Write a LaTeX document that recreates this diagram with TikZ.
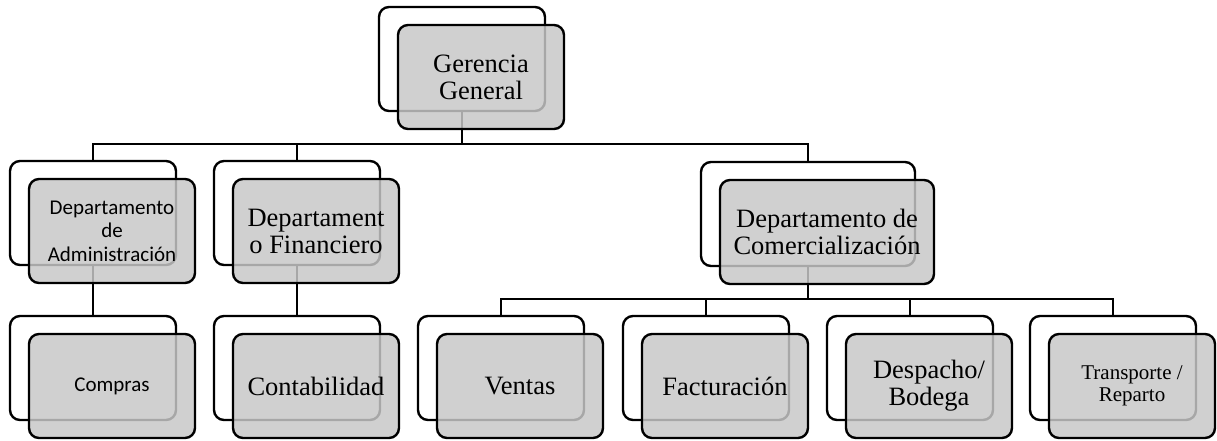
\documentclass[tikz,border=0pt]{standalone}
\usepackage{fontspec}
\setmainfont{Liberation Serif}
\newfontfamily\calibri{Carlito}
\usetikzlibrary{positioning}

\begin{document}
\begin{tikzpicture}[
			x=1pt, y=-1pt,
			back/.style={draw, line width=2.4pt, rounded corners=10pt, fill=white, minimum width=166pt, minimum height=104pt, inner sep=2pt},
			front/.style={back, fill=black!22, fill opacity=0.84, text opacity=1, align=center, font=\fontsize{26.5}{27}\selectfont},
			wide/.style={minimum width=214pt},
			sans/.style={font=\calibri\fontsize{21}{23.5}\selectfont},
			small/.style={font=\fontsize{21}{22.5}\selectfont},
			link/.style={draw, line width=2pt},
			]
			\useasboundingbox (0,0) rectangle (1217,440);
			
			%% ── Back frames ─────────────────────────────────────────────
			\node[back] (ger0) at (462,59) {};
			\node[back] (adm0) at (93,213) {};
			\node[back] (fin0) at (297,213) {};
			\node[back, wide] (com0) at (808,214) {};
			\node[back] (cmp0) at (93,368) {};
			\node[back] (con0) at (297,368) {};
			\node[back] (ven0) at (501,368) {};
			\node[back] (fac0) at (706,368) {};
			\node[back] (des0) at (910,368) {};
			\node[back] (tra0) at (1113,368) {};
			
			%% ── Connectors ──────────────────────────────────────────────
			\draw[link] (ger0.south) -- ++(0,32) -| (adm0.north);
			\draw[link] (ger0.south) -- ++(0,32) -| (fin0.north);
			\draw[link] (ger0.south) -- ++(0,32) -| (com0.north);
			\draw[link] (adm0.south) -- (cmp0.north);
			\draw[link] (fin0.south) -- (con0.north);
			\draw[link] (com0.south) -- ++(0,32) -| (ven0.north);
			\draw[link] (com0.south) -- ++(0,32) -| (fac0.north);
			\draw[link] (com0.south) -- ++(0,32) -| (des0.north);
			\draw[link] (com0.south) -- ++(0,32) -| (tra0.north);
			
			%% ── Front boxes ─────────────────────────────────────────────
			\node[front] (ger) at ([shift={(19,18)}]ger0) {Gerencia\\General};
			\node[front, sans] (adm) at ([shift={(19,18)}]adm0) {Departamento\\de\\Administración};
			\node[front] (fin) at ([shift={(19,18)}]fin0) {Departament\\o Financiero};
			\node[front, wide] (com) at ([shift={(19,18)}]com0) {Departamento de\\Comercialización};
			\node[front, sans] (cmp) at ([shift={(19,18)}]cmp0) {Compras};
			\node[front] (con) at ([shift={(19,18)}]con0) {Contabilidad};
			\node[front] (ven) at ([shift={(19,18)}]ven0) {Ventas};
			\node[front] (fac) at ([shift={(19,18)}]fac0) {Facturación};
			\node[front] (des) at ([shift={(19,18)}]des0) {Despacho/\\Bodega};
			\node[front, small] (tra) at ([shift={(19,18)}]tra0) {Transporte /\\Reparto};
			
		\end{tikzpicture}
\end{document}
